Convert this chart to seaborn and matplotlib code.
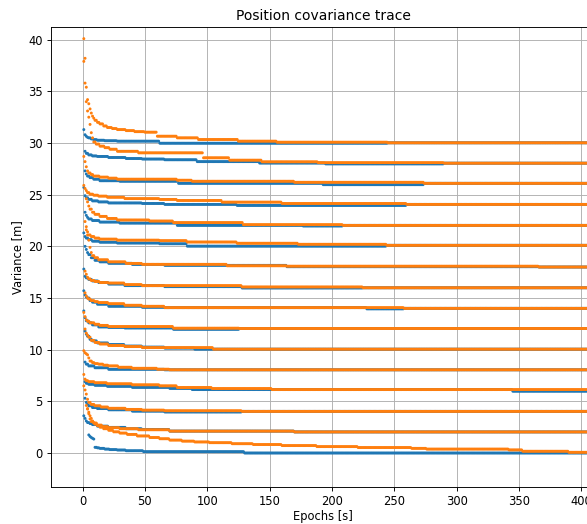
import matplotlib
matplotlib.use("Agg")
import matplotlib.pyplot as plt
import pandas as pd
import seaborn as sns

OUT_FILE = "out.png"
LAST_EPOCH = 420
DPI = 83

# Traces as (epoch, value) change points.
# Each value holds until the next listed epoch (the traces are flat between changes).
orange_30 = [(1, 40.1), (2, 38.2), (3, 35.4), (4, 34.2), (5, 33.8), (6, 33.3), (7, 32.9), (8, 32.6), (9, 32.4),
             (10, 32.2), (12, 32.0), (14, 31.85), (17, 31.65), (20, 31.5), (24, 31.4), (28, 31.3), (35, 31.2),
             (42, 31.1), (50, 31.05), (60, 30.66), (76, 30.5), (93, 30.34), (125, 30.18), (156, 30.08), (245, 30.02)]
blue_30 = [(1, 31.3), (2, 30.8), (3, 30.65), (4, 30.55), (5, 30.5), (7, 30.4), (9, 30.33), (12, 30.27),
           (18, 30.22), (28, 30.18), (62, 29.98), (245, 30.02)]

orange_28 = [(1, 37.9), (2, 35.8), (3, 34.0), (4, 33.1), (5, 32.5), (6, 31.8), (7, 31.0), (8, 30.5), (9, 30.1),
             (11, 29.9), (14, 29.7), (18, 29.55), (22, 29.4), (28, 29.2), (45, 29.05), (97, 28.57), (118, 28.34),
             (144, 28.18), (189, 28.1), (290, 28.05)]
blue_28 = [(2, 29.2), (3, 29.0), (5, 28.85), (8, 28.75), (12, 28.7), (21, 28.6), (35, 28.5), (48, 28.45),
           (66, 28.38), (92, 28.2), (142, 28.06), (195, 27.98), (290, 28.05)]

orange_26 = [(1, 28.7), (2, 28.2), (3, 27.7), (4, 27.3), (5, 27.1), (7, 26.95), (9, 26.8), (14, 26.7), (21, 26.6),
             (28, 26.5), (76, 26.4), (88, 26.3), (170, 26.2), (274, 26.1)]
blue_26 = [(2, 27.3), (3, 27.0), (4, 26.8), (6, 26.65), (9, 26.5), (14, 26.35), (30, 26.3), (77, 26.1),
           (193, 25.97), (274, 26.1)]

orange_24 = [(1, 25.9), (2, 25.6), (3, 25.4), (4, 25.2), (6, 25.05), (9, 24.95), (13, 24.86), (20, 24.75),
             (34, 24.62), (62, 24.54), (76, 24.44), (112, 24.28), (160, 24.15), (260, 24.06)]
blue_24 = [(1, 25.7), (2, 24.9), (3, 24.7), (5, 24.55), (8, 24.4), (13, 24.3), (21, 24.2), (48, 24.15),
           (66, 24.06), (124, 23.96), (260, 24.06)]

orange_22 = [(3, 24.6), (4, 24.3), (5, 23.9), (6, 23.6), (8, 23.3), (10, 23.1), (14, 22.9), (20, 22.7),
             (28, 22.55), (54, 22.45), (73, 22.3), (129, 22.1), (209, 22.03)]
blue_22 = [(2, 23.3), (3, 23.0), (4, 22.8), (5, 22.65), (8, 22.5), (14, 22.35), (30, 22.25), (76, 22.03),
           (177, 21.97), (209, 22.03)]

orange_20 = [(2, 22.4), (3, 21.9), (4, 21.4), (5, 21.1), (7, 20.95), (10, 20.8), (14, 20.7), (28, 20.6),
             (62, 20.55), (84, 20.42), (124, 20.3), (173, 20.2), (244, 20.1)]
blue_20 = [(1, 21.3), (2, 20.95), (3, 20.8), (5, 20.65), (8, 20.5), (14, 20.4), (28, 20.32), (62, 20.25),
           (84, 20.02), (244, 20.1)]

orange_18 = [(3, 21.6), (4, 21.1), (5, 20.6), (6, 19.9), (7, 19.4), (8, 19.1), (10, 18.9), (13, 18.7),
             (21, 18.5), (35, 18.35), (48, 18.26), (116, 18.12), (164, 18.08), (366, 18.0)]
blue_18 = [(2, 20.0), (3, 19.7), (4, 19.4), (5, 19.2), (7, 18.9), (10, 18.65), (14, 18.5), (21, 18.36),
           (40, 18.25), (66, 18.16), (164, 18.03), (366, 18.0)]

orange_16 = [(2, 17.6), (3, 17.3), (4, 17.0), (5, 16.85), (7, 16.7), (10, 16.6), (14, 16.5), (21, 16.45),
             (34, 16.3), (48, 16.2), (128, 16.07), (225, 15.99)]
blue_16 = [(1, 17.8), (2, 17.1), (3, 16.95), (5, 16.8), (8, 16.65), (13, 16.5), (21, 16.35), (34, 16.2),
           (66, 16.1), (128, 15.97), (225, 15.99)]

orange_14 = [(2, 15.5), (3, 15.2), (4, 15.0), (5, 14.9), (7, 14.75), (10, 14.65), (13, 14.56), (21, 14.45),
             (34, 14.3), (48, 14.2), (66, 14.07), (258, 14.0)]
blue_14 = [(1, 15.7), (2, 15.3), (3, 15.1), (4, 15.0), (6, 14.75), (8, 14.6), (12, 14.4), (21, 14.2),
           (48, 14.1), (66, 14.07), (228, 13.95), (258, 14.0)]

orange_12 = [(1, 13.6), (2, 13.2), (3, 12.9), (4, 12.75), (6, 12.6), (10, 12.46), (14, 12.35), (21, 12.24),
             (73, 12.08), (126, 12.05)]
blue_12 = [(1, 13.75), (2, 13.1), (3, 12.8), (5, 12.6), (8, 12.4), (13, 12.2), (21, 12.15), (34, 12.1),
           (73, 11.97), (126, 12.05)]

orange_10 = [(2, 12.0), (3, 11.6), (4, 11.4), (5, 11.2), (7, 10.9), (10, 10.7), (14, 10.55), (21, 10.4),
             (34, 10.3), (48, 10.2), (105, 10.05)]
blue_10 = [(2, 11.8), (3, 11.5), (4, 11.3), (6, 11.0), (8, 10.85), (12, 10.65), (21, 10.5), (34, 10.35),
           (48, 10.25), (66, 10.15), (90, 10.05)]

orange_8 = [(1, 9.9), (2, 9.7), (3, 9.6), (4, 9.5), (5, 9.2), (6, 8.9), (8, 8.75), (10, 8.65), (13, 8.6),
            (17, 8.5), (21, 8.43), (29, 8.3), (40, 8.2), (60, 8.11), (70, 8.05)]
blue_8 = [(2, 8.8), (3, 8.6), (5, 8.43), (10, 8.25), (21, 8.1), (66, 8.05)]

orange_6 = [(1, 7.6), (2, 7.15), (3, 7.0), (5, 6.9), (10, 6.8), (20, 6.7), (40, 6.6), (62, 6.5), (76, 6.34),
            (104, 6.24), (152, 6.14)]
blue_6 = [(2, 6.9), (3, 6.75), (5, 6.65), (10, 6.55), (20, 6.45), (40, 6.35), (70, 6.25), (88, 6.14),
          (345, 5.98)]

orange_4 = [(1, 6.5), (2, 6.1), (3, 5.7), (4, 5.2), (5, 4.9), (7, 4.7), (10, 4.57), (15, 4.45), (21, 4.33),
            (35, 4.22), (48, 4.15), (66, 4.09), (128, 4.03)]
blue_4 = [(2, 5.3), (3, 4.9), (4, 4.7), (5, 4.57), (8, 4.4), (12, 4.3), (21, 4.18), (40, 4.05), (66, 3.97),
          (128, 4.03)]

orange_2 = [(3, 4.6), (4, 4.25), (5, 3.8), (6, 3.3), (7, 3.05), (9, 2.9), (12, 2.7), (16, 2.55), (21, 2.45),
            (30, 2.35), (45, 2.25), (70, 2.12), (170, 2.04)]
blue_2 = [(1, 3.6), (2, 3.35), (3, 3.1), (4, 2.95), (6, 2.85), (8, 2.75), (12, 2.6), (21, 2.48), (35, 2.35),
          (48, 2.28), (70, 2.12), (170, 2.04)]

orange_0 = [(4, 4.3), (5, 3.95), (6, 3.6), (7, 3.35), (8, 3.1), (9, 2.95), (10, 2.8), (12, 2.65), (14, 2.5),
            (17, 2.35), (21, 2.2), (25, 2.05), (30, 1.93), (36, 1.8), (44, 1.65), (54, 1.5), (62, 1.38),
            (70, 1.25), (80, 1.15), (90, 1.07), (102, 1.0), (120, 0.9), (137, 0.82), (160, 0.72), (188, 0.62),
            (221, 0.53), (264, 0.45), (276, 0.38), (342, 0.3), (353, 0.17), (390, 0.07)]
blue_0 = [(5, 1.75), (6, 1.6), (7, 1.5), (8, 1.42), (9, 1.35), (10, 0.55), (12, 0.5), (14, 0.45), (18, 0.38),
          (22, 0.33), (28, 0.29), (35, 0.22), (49, 0.13), (130, 0.0)]

blue_traces = [blue_30, blue_28, blue_26, blue_24, blue_22, blue_20, blue_18, blue_16,
               blue_14, blue_12, blue_10, blue_8, blue_6, blue_4, blue_2, blue_0]
orange_traces = [orange_30, orange_28, orange_26, orange_24, orange_22, orange_20, orange_18, orange_16,
                 orange_14, orange_12, orange_10, orange_8, orange_6, orange_4, orange_2, orange_0]


def expand(steps, label):
    rows = []
    for i, (start, val) in enumerate(steps):
        stop = steps[i + 1][0] if i + 1 < len(steps) else LAST_EPOCH + 1
        for epoch in range(start, stop):
            rows.append({"epoch": epoch, "variance": val, "trace": label})
    return rows


rows = []
for steps in blue_traces:
    rows += expand(steps, "a")
for steps in orange_traces:  # orange drawn on top
    rows += expand(steps, "b")
df = pd.DataFrame(rows)

fig = plt.figure(figsize=(587 / DPI, 524 / DPI), dpi=DPI)
ax = fig.add_axes([0.0869, 0.0706, 0.927, 0.8779])

sns.scatterplot(data=df, x="epoch", y="variance", hue="trace",
                palette={"a": "#1f77b4", "b": "#ff7f0e"},
                s=6.5, linewidth=0, legend=False, ax=ax)

ax.set_xlim(-25.3, 411)
ax.set_ylim(-3.29, 41.23)
ax.set_xticks(range(0, 401, 50))
ax.set_yticks(range(0, 41, 5))
ax.grid(True)
ax.set_axisbelow(True)
ax.set_title("Position covariance trace")
ax.set_xlabel("Epochs [s]", labelpad=2)
ax.set_ylabel("Variance [m]")

fig.savefig(OUT_FILE, dpi=DPI)
